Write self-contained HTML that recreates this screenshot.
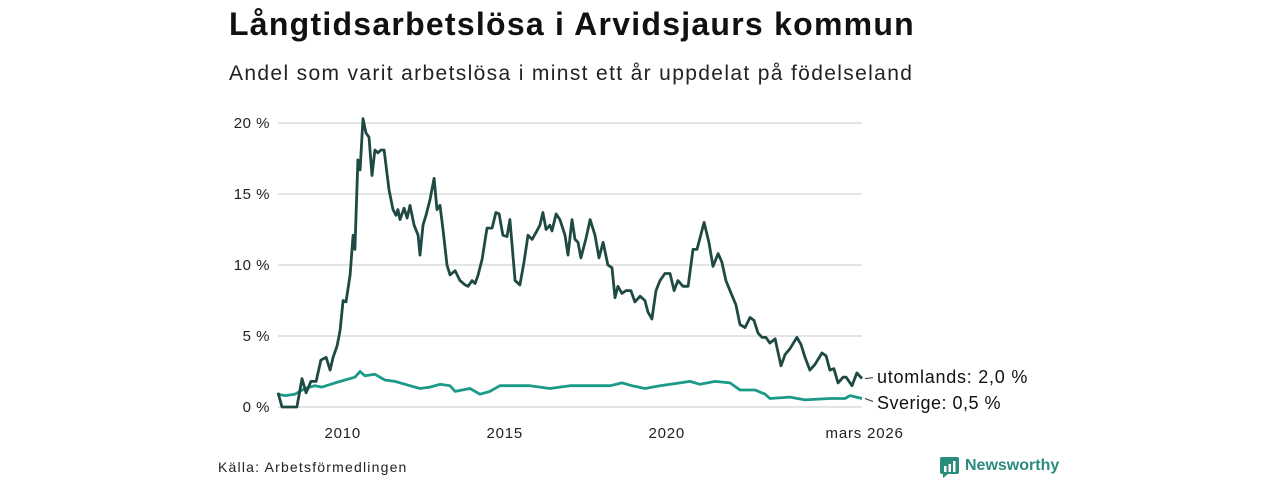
<!DOCTYPE html>
<html><head><meta charset="utf-8">
<style>
body{margin:0;width:1280px;height:480px;background:#fff;font-family:"Liberation Sans","DejaVu Sans",sans-serif;overflow:hidden;position:relative}
.t{position:absolute;white-space:nowrap;color:#111}
</style></head><body>
<div class="t" style="left:229px;top:6px;font-size:32px;font-weight:bold;letter-spacing:1.25px">Långtidsarbetslösa i Arvidsjaurs kommun</div>
<div class="t" style="left:229px;top:62px;font-size:21px;color:#222;letter-spacing:1.35px">Andel som varit arbetslösa i minst ett år uppdelat på födelseland</div>
<svg id="chart" width="1280" height="480" style="position:absolute;left:0;top:0"></svg>
<div class="t" style="left:218px;top:459px;font-size:14px;color:#222;letter-spacing:1.2px">Källa: Arbetsförmedlingen</div>
<div style="position:absolute;left:940px;top:457px;height:20px">
  <svg width="20" height="22" style="position:absolute;left:0;top:0"><rect x="0" y="0" width="19" height="17" rx="2" fill="#2a8c7c"/><polygon points="3,17 8,17 3,21" fill="#2a8c7c"/><rect x="4" y="9" width="2.5" height="6" fill="#fff"/><rect x="8.5" y="7" width="2.5" height="8" fill="#fff"/><rect x="13" y="4" width="2.5" height="11" fill="#fff"/></svg>
  <span style="position:absolute;left:25px;top:0px;font-size:16px;font-weight:bold;color:#2a8c7c;white-space:nowrap">Newsworthy</span>
</div>
<script>
const yTicks=[0,5,10,15,20];
const yTickLabels=["0 %","5 %","10 %","15 %","20 %"];
const xTickMonths=[24,84,144,218];
const xTickLabels=["2010","2015","2020","mars 2026"];
const utMonths=[0,1.5,7,8.9,10.4,12.2,14.1,15.9,17.8,19.3,20.4,21.9,23,24.1,25.2,26.7,27.8,28.5,29.6,30.4,31.5,32.6,33.7,34.8,35.9,37,38.1,39.3,41.1,42.6,43.7,44.4,45.2,46.7,47.8,48.9,50.4,51.9,52.6,53.7,54.8,56.3,57.8,58.9,60,61.1,62.6,63.7,65.6,67.4,69.3,70.4,71.9,73,74.1,75.6,77.4,79.3,80.7,81.9,83.3,84.8,85.9,87.8,89.6,91.1,92.6,94.1,95.9,97,98.1,99.3,100.7,101.5,103,104.4,106.3,107.4,108.9,110,111.1,112.2,114.1,115.6,117.4,118.9,120.4,122.2,123.7,124.8,125.9,127.4,128.9,130.7,132.2,134.1,135.9,137,138.5,140,141.5,143.3,145.2,146.7,148.1,150,151.9,153.7,155.2,157.8,159.6,161.1,163,164.4,165.9,167.4,169.6,171.1,173,174.8,176.3,177.8,179.3,180.7,182.2,184.1,186.3,187.8,189.6,192.2,193.7,195.2,197,198.9,201.5,203,204.4,205.9,207.4,209.3,210.4,212.6,214.4,216.3];
const utValues=[1.0,0,0,2.0,1.0,1.8,1.8,3.3,3.5,2.6,3.5,4.3,5.4,7.5,7.4,9.3,12.1,11.1,17.4,16.7,20.3,19.3,19.0,16.3,18.1,17.9,18.1,18.1,15.3,13.9,13.5,13.9,13.2,14.0,13.3,14.2,12.8,12.1,10.7,12.8,13.5,14.6,16.1,13.9,14.2,12.5,10.0,9.3,9.6,8.9,8.6,8.5,8.9,8.7,9.3,10.4,12.6,12.6,13.7,13.6,12.1,12.0,13.2,8.9,8.6,10.2,12.1,11.8,12.4,12.8,13.7,12.5,12.8,12.4,13.6,13.2,12.1,10.7,13.2,11.8,11.6,10.5,11.9,13.2,12.1,10.5,11.6,10.0,9.8,7.7,8.5,8.0,8.2,8.2,7.4,7.8,7.5,6.7,6.2,8.2,8.9,9.4,9.4,8.2,8.9,8.5,8.5,11.1,11.1,13.0,11.6,9.9,10.8,10.2,8.9,8.2,7.2,5.8,5.6,6.3,6.1,5.2,4.9,4.9,4.5,4.8,2.9,3.7,4.1,4.9,4.4,3.5,2.6,3.0,3.8,3.6,2.6,2.7,1.7,2.1,2.1,1.5,2.4,2.0];
const seMonths=[0,2.6,6.3,10,13.7,16.3,21.1,24.8,28.5,30.4,32.2,35.9,39.6,43.3,48.9,52.6,56.3,60,63.7,65.6,71.1,74.8,78.5,82.2,85.9,93.3,100.7,108.1,115.6,123,127.4,131.1,135.9,141.5,148.9,152.6,156.3,161.9,167.4,171.1,176.7,180.4,182.2,189.6,195.2,204.4,210,211.9,216.3];
const seValues=[0.9,0.8,0.9,1.3,1.5,1.4,1.7,1.9,2.1,2.5,2.2,2.3,1.9,1.8,1.5,1.3,1.4,1.6,1.5,1.1,1.3,0.9,1.1,1.5,1.5,1.5,1.3,1.5,1.5,1.5,1.7,1.5,1.3,1.5,1.7,1.8,1.6,1.8,1.7,1.2,1.2,0.9,0.6,0.7,0.5,0.6,0.6,0.8,0.6];

const NS="http://www.w3.org/2000/svg";
const svg=document.getElementById('chart');
const X0=278,X1=862,Y0=407,Y1=123;
const xScale=m=>X0+(m-0)/(216.3-0)*(X1-X0);
const yScale=v=>Y0-(v/20)*(Y0-Y1);
function mk(tag,attrs){const e=document.createElementNS(NS,tag);for(const k in attrs)e.setAttribute(k,attrs[k]);svg.appendChild(e);return e;}

yTicks.forEach((v,i)=>{
  const g=mk('line',{x1:X0,x2:X1,y1:yScale(v),y2:yScale(v),stroke:'#dcdcdc','stroke-width':1.5});
  
  
  const t=mk('text',{x:270,y:yScale(v)+5,'text-anchor':'end','font-size':15,fill:'#222','letter-spacing':0.5});
  t.textContent=yTickLabels[i];
  
  
});
xTickMonths.forEach((m,i)=>{
  const t=mk('text',{x:i===3?xScale(m)-2:xScale(m),y:438,'text-anchor':'middle','font-size':15,fill:'#222','letter-spacing':0.8});
  t.textContent=xTickLabels[i];
  
  
});
function line(ms,vs,color,name){
  const d=ms.map((m,i)=>(i?'L':'M')+xScale(m).toFixed(1)+','+yScale(vs[i]).toFixed(1)).join('');
  const p=mk('path',{d:d,fill:'none',stroke:color,'stroke-width':2.8,'stroke-linejoin':'round'});
  
  
}
line(seMonths,seValues,'#1a9a87','line-sverige');
line(utMonths,utValues,'#1e4a43','line-utomlands');

const uy=yScale(utValues[utValues.length-1]), sy=yScale(seValues[seValues.length-1]);
const c1=mk('line',{x1:865,x2:873,y1:uy,y2:uy-1,stroke:'#333','stroke-width':1});


const c2=mk('line',{x1:865,x2:873,y1:sy,y2:sy+3,stroke:'#333','stroke-width':1});


const l1=mk('text',{x:877,y:383,'font-size':18,fill:'#111','letter-spacing':0.75});
l1.textContent='utomlands: 2,0 %';


const l2=mk('text',{x:877,y:409,'font-size':18,fill:'#111','letter-spacing':0.5});
l2.textContent='Sverige: 0,5 %';


</script>
</body></html>
